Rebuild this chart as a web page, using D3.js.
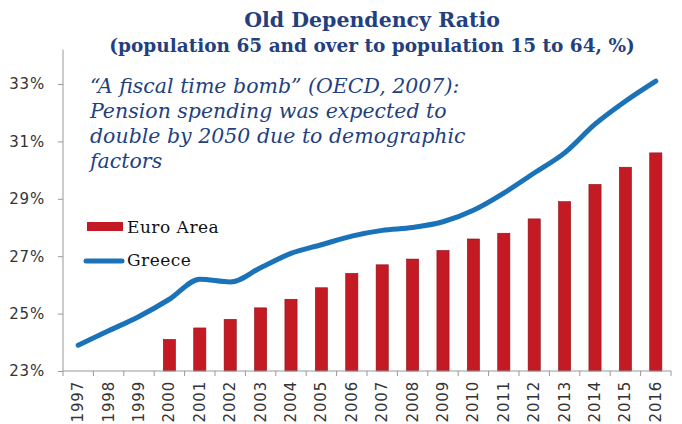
<!DOCTYPE html>
<html>
<head>
<meta charset="utf-8">
<script src="https://cdn.jsdelivr.net/npm/d3@7"></script>
<style>
  body { margin: 0; background: #fff; }
  svg { display: block; }
</style>
</head>
<body>
<div id="chart"></div>
<script>
// data
var years = ["1997","1998","1999","2000","2001","2002","2003","2004","2005","2006",
             "2007","2008","2009","2010","2011","2012","2013","2014","2015","2016"];
// Euro Area bars start in 2000
var euroArea = [null, null, null, 24.1, 24.5, 24.8, 25.2, 25.5, 25.9, 26.4,
                26.7, 26.9, 27.2, 27.6, 27.8, 28.3, 28.9, 29.5, 30.1, 30.6];
var greece = [23.9, 24.4, 24.9, 25.5, 26.2, 26.1, 26.6, 27.1, 27.4, 27.7,
              27.9, 28.0, 28.2, 28.6, 29.2, 29.9, 30.6, 31.6, 32.4, 33.1];
var yTicks = [23, 25, 27, 29, 31, 33];
var noteLines = ["\u201CA fiscal time bomb\u201D (OECD, 2007):",
                 "Pension spending was expected to",
                 "double by 2050 due to demographic",
                 "factors"];

var width = 682, height = 424;
var margin = {top: 84, right: 11, bottom: 53, left: 63};
var navy = "#233f7f";

var svg = d3.select("#chart")
    .append("svg")
    .attr("width", width)
    .attr("height", height)

var x = d3.scaleBand()
    .domain(years)
    .range([margin.left, width - margin.right])
    .paddingInner(0.6)
    .paddingOuter(0.3);

var y = d3.scaleLinear()
    .domain([23, 33])
    .range([height - margin.bottom, margin.top]);

// titles
svg.append("text")
    .attr("x", 372).attr("y", 27)
    .attr("text-anchor", "middle")
    .style("font-family", "DejaVu Serif")
    .style("font-weight", "bold")
    .style("font-size", "20.5px")
    .style("fill", navy)
    .text("Old Dependency Ratio");
svg.append("text")
    .attr("x", 372).attr("y", 52)
    .attr("text-anchor", "middle")
    .style("font-family", "DejaVu Serif")
    .style("font-weight", "bold")
    .style("font-size", "18.5px")
    .style("fill", navy)
    .text("(population 65 and over to population 15 to 64, %)");

// bars
svg.append("g")
    .selectAll("rect")
    .data(euroArea.map((v, i) => ({year: years[i], v: v})).filter(d => d.v != null))
    .enter()
    .append("rect")
    .attr("x", d => x(d.year))
    .attr("width", x.bandwidth())
    .attr("y", d => y(d.v))
    .attr("height", d => y(23) - y(d.v))
    .style("fill", "#c41a24")
    .style("stroke", "#8e1017")
    .style("stroke-width", 0.6);

// greece line
var line = d3.line()
    .x((d, i) => x(years[i]) + x.bandwidth() / 2)
    .y(d => y(d))
    .curve(d3.curveMonotoneX);

svg.append("path")
    .datum(greece)
    .attr("d", line)
    .style("fill", "none")
    .style("stroke", "#1a72b8")
    .style("stroke-width", 5)
    .style("stroke-linecap", "round");

// y axis
var yAxis = svg.append("g")
    .attr("transform", "translate(" + margin.left + ",0)")
    .call(d3.axisLeft(y).tickValues(yTicks).tickSize(5).tickSizeOuter(0).tickFormat(d => d + "%"));
yAxis.select(".domain").remove();
yAxis.append("line")
    .attr("x1", 0).attr("x2", 0)
    .attr("y1", y(23)).attr("y2", y(34.2))
    .style("stroke", "#999");
yAxis.selectAll(".tick line").style("stroke", "#999");
yAxis.selectAll("text")
    .attr("x", -18)
    .style("font-family", "DejaVu Sans")
    .style("font-size", "15px")
    .style("letter-spacing", "0.8px")
    .style("fill", "#333");

// x axis: ticks at category boundaries
var xAxis = svg.append("g")
    .attr("transform", "translate(0," + y(23) + ")");
xAxis.append("line")
    .attr("x1", margin.left).attr("x2", width - margin.right)
    .style("stroke", "#999");
xAxis.selectAll(".bt")
    .data(d3.range(years.length + 1))
    .enter()
    .append("line")
    .attr("x1", i => margin.left + i * (width - margin.left - margin.right) / years.length)
    .attr("x2", i => margin.left + i * (width - margin.left - margin.right) / years.length)
    .attr("y1", 0).attr("y2", 5)
    .style("stroke", "#999");
xAxis.selectAll(".lbl")
    .data(years)
    .enter()
    .append("text")
    .attr("transform", d => "translate(" + (x(d) + x.bandwidth() / 2 + 5) + ",10) rotate(-90)")
    .attr("text-anchor", "end")
    .style("font-family", "DejaVu Sans")
    .style("font-size", "15px")
    .style("letter-spacing", "0.8px")
    .style("fill", "#333")
    .text(d => d);

// annotation
svg.append("text")
    .attr("x", 90).attr("y", 93)
    .style("font-family", "DejaVu Serif")
    .style("font-style", "italic")
    .style("font-size", "20.5px")
    .style("fill", navy)
    .selectAll("tspan")
    .data(noteLines)
    .enter()
    .append("tspan")
    .attr("x", 90)
    .attr("dy", (d, i) => i == 0 ? 0 : 25)
    .text(d => d);

// legend
var legend = svg.append("g");
legend.append("rect")
    .attr("x", 87).attr("y", 222).attr("width", 36).attr("height", 9)
    .style("fill", "#c41a24");
legend.append("line")
    .attr("x1", 86).attr("x2", 122).attr("y1", 261).attr("y2", 261)
    .style("stroke", "#1a72b8").style("stroke-width", 5).style("stroke-linecap", "round");
legend.selectAll(".lt")
    .data(["Euro Area", "Greece"])
    .enter()
    .append("text")
    .attr("x", 127)
    .attr("y", (d, i) => 233 + i * 33)
    .style("font-family", "DejaVu Serif")
    .style("font-size", "17px")
    .style("letter-spacing", "0.5px")
    .style("fill", "#111")
    .text(d => d);
</script>
</body>
</html>
